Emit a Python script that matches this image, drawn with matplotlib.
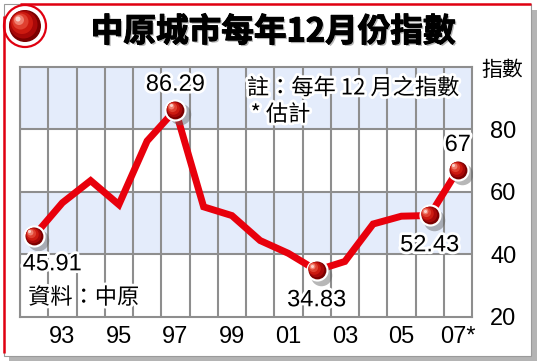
import matplotlib.pyplot as plt
import matplotlib.patheffects as pe
from matplotlib.patches import Rectangle, Circle
from matplotlib.transforms import offset_copy

# data
years = list(range(1992, 2008))
values = [45.91, 56.5, 63.6, 55.9, 76.3, 86.29, 55.2, 52.4, 44.4, 40.3,
          34.83, 37.7, 49.7, 52.2, 52.43, 67.0]
label_idx = [0, 5, 10, 14, 15]
label_txt = ['45.91', '86.29', '34.83', '52.43', '67']
xtick_years = [1993, 1995, 1997, 1999, 2001, 2003, 2005, 2007]
xtick_labels = ['93', '95', '97', '99', '01', '03', '05', '07*']
ytick_vals = [20, 40, 60, 80]

W, H = 539, 363
cjk = ['Noto Sans CJK TC', 'DejaVu Sans']
num = ['Liberation Sans', 'DejaVu Sans']
halo = [pe.withStroke(linewidth=4, foreground='white')]

fig = plt.figure(figsize=(W / 100, H / 100), dpi=100)
fig.patch.set_facecolor('white')

# background frame, drawn in pixel coords
bg = fig.add_axes([0, 0, 1, 1], zorder=0)
bg.set_xlim(0, W)
bg.set_ylim(H, 0)
bg.axis('off')
bg.add_patch(Rectangle((9, 10), 528, 351, color='#b4b4b4', lw=0))
bg.add_patch(Rectangle((4, 4), 527, 352, facecolor='white', edgecolor='#9a9a9a', lw=0.8))
bg.plot([3.7, 3.7], [16, 353], color='#e00010', lw=1.8, solid_capstyle='butt')
bg.plot([20, 531], [4.3, 4.3], color='#e00010', lw=1.8, solid_capstyle='butt')

# red ball badge top-left
bg.add_patch(Circle((27, 28), 17, color='#909090', alpha=0.5, lw=0))
bg.add_patch(Circle((25, 26), 21, facecolor='white', edgecolor='#e00010', lw=1.6))
for r, dx, c in [(16, 0, '#7a0000'), (14, -1.5, '#a80808'), (11, -3, '#cc1a10'),
                 (8, -4.5, '#e04030'), (5, -6, '#f08070'), (2.5, -7, '#fbd0c8')]:
    bg.add_patch(Circle((25 + dx, 26 + dx), r, color=c, lw=0))

bg.text(273, 32, '中原城市每年12月份指數', family=cjk, fontsize=23.5,
        fontweight='black', ha='center', va='center', color='black',
        path_effects=[pe.withSimplePatchShadow(offset=(1.2, -1.2), shadow_rgbFace='#999999', alpha=0.7),
                      pe.withStroke(linewidth=0.8, foreground='black')])

# main plot area
ax = fig.add_axes([20 / W, (H - 316.7) / H, 452 / W, 249.7 / H], zorder=1)
ax.set_xlim(1991.5, 2007.5)
ax.set_ylim(20, 100)
ax.set_facecolor('white')
ax.axhspan(40, 60, color='#e4ecfb', lw=0, zorder=0)
ax.axhspan(80, 100, color='#e4ecfb', lw=0, zorder=0)
grid_c = '#8e8e8e'
for x in range(1992, 2008):
    ax.axvline(x - 0.5, color=grid_c, lw=1.5, zorder=1)
for y in [40, 60, 80]:
    ax.axhline(y, color=grid_c, lw=1.5, zorder=1)
for s in ax.spines.values():
    s.set_color(grid_c)
    s.set_linewidth(1.5)

ax.plot(years, values, color='#e8000c', lw=5, solid_joinstyle='miter', zorder=3)

# glossy balls
lx = [years[i] for i in label_idx]
ly = [values[i] for i in label_idx]
sh = offset_copy(ax.transData, fig=fig, x=3, y=-3, units='points')
ax.scatter(lx, ly, s=240, color='#606060', alpha=0.45, lw=0, transform=sh, zorder=4)
ax.scatter(lx, ly, s=255, color='white', lw=0, zorder=5)
for s, d, c in [(165, 0, '#7a0000'), (125, 0.8, '#a80808'), (82, 1.6, '#cc1a10'),
                (44, 2.3, '#e04030'), (18, 3.0, '#f08070'), (5, 3.4, '#fbd0c8')]:
    tr = offset_copy(ax.transData, fig=fig, x=-d, y=d, units='points')
    ax.scatter(lx, ly, s=s, color=c, lw=0, transform=tr, zorder=6)

offsets = [(13, -20.5), (0, 18), (0, -21.5), (0, -21.5), (0, 18)]
for i, t, off in zip(label_idx, label_txt, offsets):
    ax.annotate(t, (years[i], values[i]), xytext=off, textcoords='offset points',
                ha='center', va='center', fontsize=17, family=num,
                path_effects=halo, zorder=7)

ax.set_xticks(xtick_years)
ax.set_xticklabels(xtick_labels, family=num, fontsize=17)
ax.yaxis.tick_right()
ax.set_yticks(ytick_vals)
ax.set_yticklabels([str(v) for v in ytick_vals], family=num, fontsize=17)
ax.tick_params(axis='x', length=0, pad=7)
ax.tick_params(axis='y', length=0, pad=13)

fig.text(502 / W, 1 - 70 / H, '指數', family=cjk, fontsize=15, ha='center', va='center')
ax.text(0.502, 0.916, '註：每年 12 月之指數', transform=ax.transAxes, family=cjk,
        fontsize=16, ha='left', va='center', path_effects=halo, zorder=7)
ax.text(0.51, 0.81, '* 估計', transform=ax.transAxes, family=cjk,
        fontsize=16, ha='left', va='center', path_effects=halo, zorder=7)
ax.text(0.018, 0.077, '資料：中原', transform=ax.transAxes, family=cjk,
        fontsize=16, ha='left', va='center', path_effects=halo, zorder=7)

fig.savefig('out.png', dpi=100)
